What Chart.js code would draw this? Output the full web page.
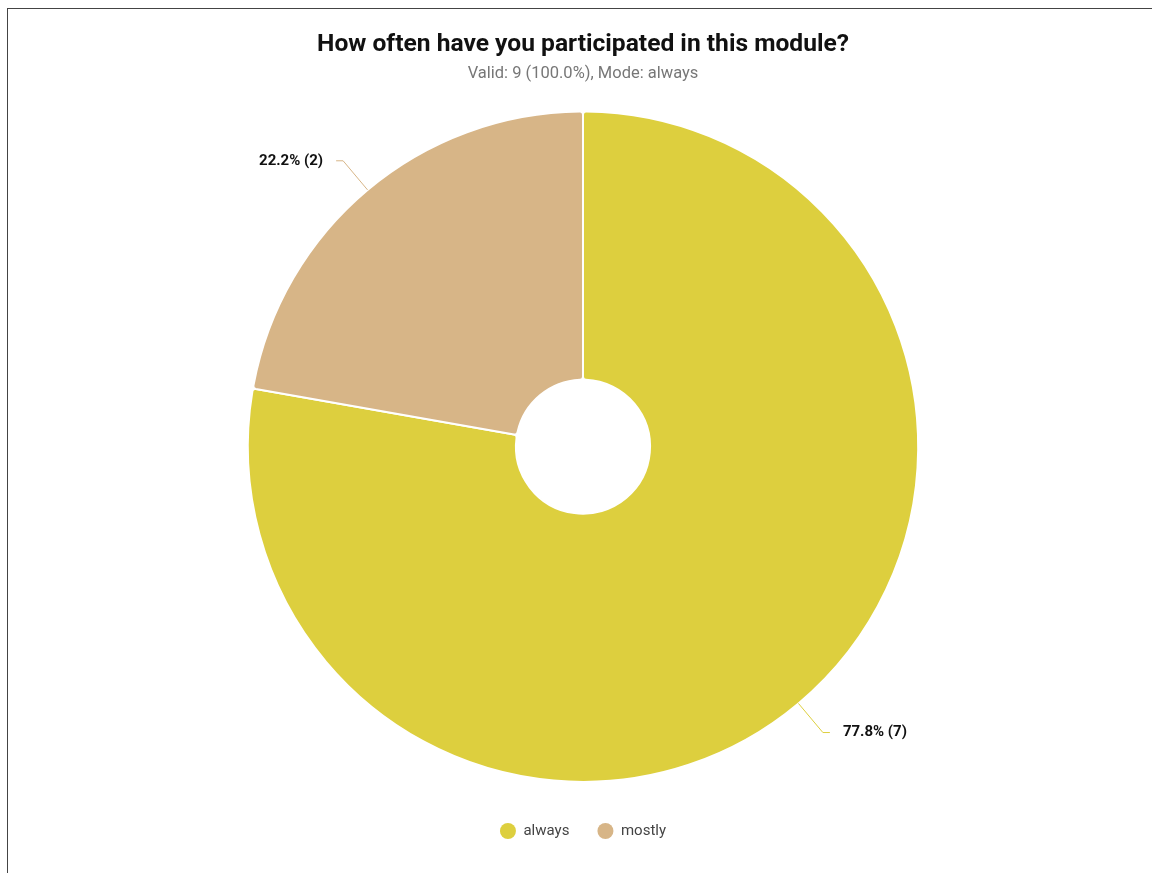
<!DOCTYPE html>
<html>
<head>
<meta charset="utf-8">
<script src="https://cdn.jsdelivr.net/npm/chart.js@4/dist/chart.umd.min.js"></script>
<style>
  html, body { margin: 0; padding: 0; background: #fff; overflow: hidden; }
  #frame {
    position: absolute;
    left: 7px;
    top: 8px;
    width: 1150px;
    height: 870px;
    border-left: 1px solid #444;
    border-top: 1px solid #444;
  }
</style>
</head>
<body>
<div id="frame"><canvas id="chart"></canvas></div>
<script>
// answers to "How often have you participated in this module?"
const categories = ["always", "mostly"]
const counts = [7, 2]
const sliceColors = ["#ddcf3e", "#d7b587"]

const titleText = "How often have you participated in this module?"
const subtitleText = "Valid: 9 (100.0%), Mode: always"

const total = counts.reduce((a, b) => a + b, 0)

// leader lines + "77.8% (7)" labels outside each slice
const outsideLabels = {
  id: "outsideLabels",
  afterDatasetsDraw(chart) {
    const ctx = chart.ctx
    const meta = chart.getDatasetMeta(0)
    meta.data.forEach((arc, i) => {
      const { x, y, startAngle, endAngle, outerRadius } = arc.getProps(
        ["x", "y", "startAngle", "endAngle", "outerRadius"], true)
      const mid = (startAngle + endAngle) / 2
      const dx = Math.cos(mid)
      const dy = Math.sin(mid)
      const sx = x + dx * outerRadius
      const sy = y + dy * outerRadius
      const ex = x + dx * (outerRadius + 38)
      const ey = y + dy * (outerRadius + 38)
      const side = dx < 0 ? -1 : 1
      const hx = ex + side * 7

      ctx.save()
      ctx.strokeStyle = sliceColors[i]
      ctx.lineWidth = 1
      ctx.beginPath()
      ctx.moveTo(sx, sy)
      ctx.lineTo(ex, ey)
      ctx.lineTo(hx, ey)
      ctx.stroke()

      const pct = (counts[i] / total * 100).toFixed(1)
      ctx.font = "bold 15px Roboto"
      ctx.fillStyle = "#111"
      ctx.textAlign = side < 0 ? "right" : "left"
      ctx.textBaseline = "middle"
      ctx.fillText(`${pct}% (${counts[i]})`, hx + side * 13, ey)
      ctx.restore()
    })
  }
}

new Chart(document.getElementById("chart"), {
  type: "doughnut",
  data: {
    labels: categories,
    datasets: [{
      data: counts,
      backgroundColor: sliceColors,
      borderColor: "#ffffff",
      borderWidth: 2,
      borderRadius: 3,
      hoverOffset: 0
    }]
  },
  options: {
    responsive: true,
    maintainAspectRatio: false,
    animation: false,
    cutout: "20%",
    radius: "96.5%",
    layout: { padding: { bottom: 30 } },
    plugins: {
      title: {
        display: true,
        text: titleText,
        color: "#111",
        font: { family: "Roboto", size: 24.6, weight: "bold" },
        padding: { top: 21, bottom: 4 }
      },
      subtitle: {
        display: true,
        text: subtitleText,
        color: "#777",
        font: { family: "Roboto", size: 16.5 },
        padding: { top: 0, bottom: 15 }
      },
      legend: {
        position: "bottom",
        labels: {
          color: "#444",
          font: { family: "Roboto", size: 15 },
          boxWidth: 16,
          boxHeight: 16,
          useBorderRadius: true,
          borderRadius: 8,
          padding: 28,
          generateLabels: (chart) => categories.map((c, i) => ({
            text: c,
            fillStyle: sliceColors[i],
            strokeStyle: sliceColors[i],
            lineWidth: 0,
            borderRadius: 8,
            fontColor: "#444",
            index: i
          }))
        }
      },
      tooltip: { enabled: false }
    }
  },
  plugins: [outsideLabels]
})
</script>
</body>
</html>
